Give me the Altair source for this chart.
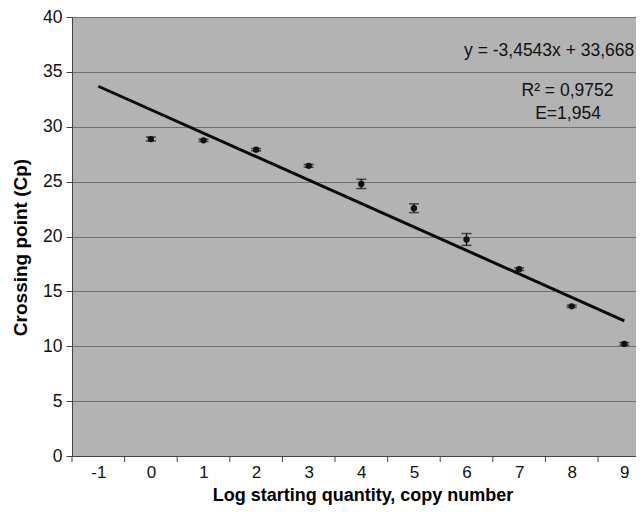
import altair as alt
import pandas as pd

# ---- data ----
log_qty = [0, 1, 2, 3, 4, 5, 6, 7, 8, 9]
cp_mean = [28.88, 28.76, 27.91, 26.44, 24.79, 22.58, 19.73, 17.02, 13.64, 10.21]
cp_err = [0.18, 0.10, 0.10, 0.12, 0.42, 0.40, 0.54, 0.12, 0.10, 0.12]

trend_x = [-1, 9]
trend_y = [33.69, 12.32]

tick_labels = [-1, 0, 1, 2, 3, 4, 5, 6, 7, 8, 9]
band_edges = [-1.5, -0.5, 0.5, 1.5, 2.5, 3.5, 4.5, 5.5, 6.5, 7.5, 8.5]
y_ticks = [0, 5, 10, 15, 20, 25, 30, 35, 40]

eq_text = ["y = -3,4543x + 33,668"]
eq_x = [9.19]
eq_y = [36.44]
stat_text = ["R\u00b2 = 0,9752", "E=1,954"]
stat_x = [7.92, 7.93]
stat_y = [32.83, 30.71]

FONT = "Liberation Sans"
W, H = 564, 439

pts = pd.DataFrame({
    "x": log_qty,
    "y": cp_mean,
    "lo": [m - e for m, e in zip(cp_mean, cp_err)],
    "hi": [m + e for m, e in zip(cp_mean, cp_err)],
})
trend = pd.DataFrame({"x": trend_x, "y": trend_y})
edges = pd.DataFrame({"x": band_edges})
eq = pd.DataFrame({"x": eq_x, "y": eq_y, "t": eq_text})
stats = pd.DataFrame({"x": stat_x, "y": stat_y, "t": stat_text})

xscale = alt.Scale(domain=[-1.5, 9.222], nice=False, zero=False)
yscale = alt.Scale(domain=[0, 40], nice=False, zero=True)

x_axis = alt.Axis(
    values=tick_labels, ticks=False, grid=False,
    labelExpr="'' + datum.value",
    labelFont=FONT, labelFontSize=17, labelColor="#111111", labelPadding=8,
    domainColor="#444444", domainWidth=1,
    title="Log starting quantity, copy number",
    titleFont=FONT, titleFontSize=18, titleFontWeight="bold", titleColor="#000000",
    titleBaseline="alphabetic", titleY=44, titleX=290.5,
)
y_axis = alt.Axis(
    values=y_ticks, tickSize=6, tickColor="#444444", grid=True,
    gridColor="#707070", gridWidth=1.2,
    labelFont=FONT, labelFontSize=17.5, labelColor="#111111", labelPadding=4,
    domainColor="#444444", domainWidth=1,
    title="Crossing point (Cp)",
    titleFont=FONT, titleFontSize=19, titleFontWeight="bold", titleColor="#000000",
    titleBaseline="alphabetic", titleX=-45.5, titleY=230, titleAngle=270,
)

base_x = alt.X("x:Q", scale=xscale, axis=x_axis)
base_y = alt.Y("y:Q", scale=yscale, axis=y_axis)

line = alt.Chart(trend).mark_line(color="#0a0a0a", strokeWidth=3).encode(
    x=base_x, y=base_y
)

bars = alt.Chart(pts).mark_rule(color="#111111", strokeWidth=1.3).encode(
    x=alt.X("x:Q", scale=xscale), y=alt.Y("lo:Q", scale=yscale), y2="hi:Q"
)
cap_lo = alt.Chart(pts).mark_tick(color="#111111", orient="horizontal", size=10, thickness=1.5).encode(
    x=alt.X("x:Q", scale=xscale), y=alt.Y("lo:Q", scale=yscale)
)
cap_hi = alt.Chart(pts).mark_tick(color="#111111", orient="horizontal", size=10, thickness=1.5).encode(
    x=alt.X("x:Q", scale=xscale), y=alt.Y("hi:Q", scale=yscale)
)
dots = alt.Chart(pts).mark_point(filled=True, color="#111111", size=40, opacity=1).encode(
    x=alt.X("x:Q", scale=xscale), y=alt.Y("y:Q", scale=yscale)
)

edge_ticks = alt.Chart(edges).mark_rule(color="#444444", strokeWidth=1).encode(
    x=alt.X("x:Q", scale=xscale), y=alt.value(H), y2=alt.value(H + 6)
)

eq_layer = alt.Chart(eq).mark_text(
    font=FONT, fontSize=17.5, color="#111111", align="right", baseline="alphabetic"
).encode(x=alt.X("x:Q", scale=xscale), y=alt.Y("y:Q", scale=yscale), text="t:N")
stat_layer = alt.Chart(stats).mark_text(
    font=FONT, fontSize=17.5, color="#111111", align="center", baseline="alphabetic"
).encode(x=alt.X("x:Q", scale=xscale), y=alt.Y("y:Q", scale=yscale), text="t:N")

chart = alt.layer(
    line, bars, cap_lo, cap_hi, dots, edge_ticks, eq_layer, stat_layer
).properties(
    width=W, height=H,
    autosize=alt.AutoSizeParams(type="none"),
    padding={"left": 64, "top": 9, "right": 0, "bottom": 49},
    background="#ffffff",
).configure_view(
    fill="#b3b3b3", stroke=None
)

chart.save("out.html", embed_options={"renderer": "svg", "actions": False})
